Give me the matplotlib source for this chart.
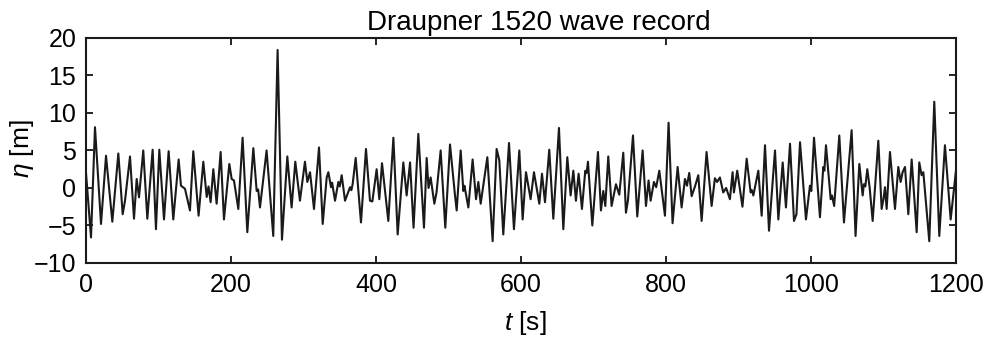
import matplotlib
matplotlib.use("Agg")
import matplotlib.pyplot as plt

# wave record: times [s] and surface elevation [m] at turning points
t = [0, 6.9, 12.4, 20.7, 27.6, 36.3, 44.6, 50.6, 53.8, 60.7, 66.2, 69.9, 73.1, 79, 84.6,
     91.9, 96.5, 101.1, 107.6, 114, 120.4, 127.8, 131, 136.5, 143.4, 148, 155.3,
     161.8, 166.5, 169, 171.9, 175.6, 180.2, 185.7, 190.3, 197.7, 200.9, 204.1, 210.1,
     216, 222.5, 230.8, 235.4, 237.5, 240, 249.1, 258.3, 264.3, 270.3, 277.7, 283.6,
     288.7, 295.1, 302, 305.3, 309, 314.5, 321.4, 326.5, 332, 334.3, 338, 339.5, 343.5,
     348.1, 350, 352.7, 357.3, 364.2, 366, 367.8, 372, 379.3, 386.2, 391.7, 395, 400.9,
     404.6, 408.3, 417, 424, 429.9, 437.7, 442.3, 447, 451.8, 458.4, 466.2, 469.9,
     472.5, 475.4, 480.5, 483.5, 489.2, 495.6, 502.1, 509, 511.3, 516.8, 520.5, 522,
     527.4, 533.3, 538, 541.2, 544.4, 553.6, 560.9, 566.4, 570.1, 575.6, 583.5, 590.3,
     597.7, 602.3, 606.9, 613.3, 617.9, 625.3, 629, 633.1, 639, 644.6, 652.4, 658.4,
     663.9, 668.5, 672.2, 675.8, 679.5, 684.1, 688.7, 690.5, 692.4, 698.4, 706.2,
     710.3, 713.5, 716.3, 720.4, 725, 731, 735.6, 741.1, 744.8, 747.5, 754.5, 760.4,
     767.8, 772.4, 776, 778.8, 783.4, 786.5, 790.8, 798.6, 803.6, 809.1, 816.1, 821.6,
     826.2, 829, 832.1, 835.4, 840, 844.6, 849.2, 856, 863, 867.5, 870.5, 874.4, 879,
     883, 888.2, 891.9, 893.7, 898.3, 905.5, 911.3, 916.8, 918.5, 920.5, 927.4, 932,
     936.6, 942.1, 950.4, 955, 961, 965.5, 971.1, 976.6, 980, 984.9, 993.1, 998.6,
     1000.5, 1004.2, 1012.4, 1017, 1018.5, 1020.7, 1027.2, 1029, 1032, 1039.1, 1045.5,
     1056.1, 1061.5, 1066.7, 1071.3, 1073, 1075, 1077.7, 1081, 1085.1, 1092.9, 1097.5,
     1100, 1102.1, 1104.4, 1109, 1115.9, 1120.5, 1123.7, 1126.4, 1129.7, 1134.3,
     1138.9, 1145.8, 1149.4, 1152.6, 1155, 1163.2, 1170.1, 1177, 1184.8, 1192.7, 1200]
eta = [2.0, -6.6, 8.1, -4.8, 4.3, -4.5, 4.6, -3.5, -1.7, 4.2, -4.1, 1.2, -1.25, 5.0, -4.1,
       5.1, -5.5, 5.1, -4.2, 4.9, -4.2, 3.8, 0.3, -0.1, -3.0, 4.9, -3.7,
       3.5, -1.2, 0.2, -1.9, 2.5, -2.1, 4.8, -4.2, 3.2, 1.2, 1.0, -2.8,
       6.7, -5.9, 5.3, -0.4, -0.2, -2.6, 5.0, -6.4, 18.4, -6.9, 4.2, -2.6,
       3.5, -1.7, 3.5, 0.8, 2.1, -2.8, 5.4, -4.8, 1.4, 2.1, 0.1, 0.7, -1.7,
       0.8, 0.2, 1.7, -1.7, 0.1, -0.3, 0.5, 4.0, -4.6, 5.2, -1.7, -1.8, 2.5,
       -1.5, 3.3, -4.4, 6.7, -6.2, 3.4, -1.0, 3.4, -5.3, 7.2, -5.3, 4.0,
       0.0, 1.4, -2.1, -0.6, 5.0, -5.3, 5.8, -1.0, -3.0, 5.0, -0.4, 0.3,
       -2.6, 3.8, -1.5, 0.8, -2.1, 4.1, -7.1, 5.2, 3.7, -6.2, 6.0, -5.5,
       5.0, -4.2, 2.1, -1.5, 2.1, -2.1, 1.9, -1.9, 5.1, -4.1, 8.0, -5.5,
       4.1, -1.0, 2.3, -1.7, 1.9, -2.8, 2.3, 2.0, 3.5, -5.0, 4.8,
       -3.0, -0.4, -2.4, 4.2, -2.4, 0.5, -0.9, 4.7, -3.3, -1.7, 7.0, -3.8,
       5.0, -2.4, 1.0, -1.7, 0.8, 0.1, 2.3, -3.7, 8.7, -4.7, 2.8, -2.6,
       1.2, 0.3, 2.0, -1.1, 0.2, 1.7, -4.4, 4.8, -2.4, 1.3, 0.8, 1.4, -0.6,
       0.0, -1.5, 2.1, -0.6, 2.3, -2.5, 3.9, -0.6, -0.3, -1.0, 2.3, -3.7,
       5.7, -5.7, 5.0, -4.2, 3.4, -2.6, 5.9, -4.4, -3.5, 6.1, -4.2, 0.3,
       -0.4, 6.7, -3.9, 2.8, 2.3, 5.7, -1.5, -1.0, -2.4, 7.0, -4.6,
       7.7, -6.4, 3.2, -1.0, 0.5, 0.2, 2.5, 0.0, -4.4, 6.3, -2.8,
       -1.5, 0.1, -2.8, 4.8, -2.8, 2.8, 0.8, 2.1, 2.8, -3.5,
       3.8, -5.9, 3.4, 1.7, 2.1, -7.1, 11.5, -6.4, 5.7, -4.2, 2.3]

xticks = [0, 200, 400, 600, 800, 1000, 1200]
yticks = [-10, -5, 0, 5, 10, 15, 20]

plt.rcParams['font.family'] = ['Liberation Sans', 'DejaVu Sans']
plt.rcParams['mathtext.fontset'] = 'custom'
plt.rcParams['mathtext.it'] = 'Liberation Sans:italic'
plt.rcParams['mathtext.rm'] = 'Liberation Sans'

fig = plt.figure(figsize=(9.84, 3.38), dpi=100)
ax = fig.add_axes([0.0874, 0.222, 0.8841, 0.6657])
ax.plot(t, eta, color='#1a1a1a', lw=1.5)

ax.set_xlim(0, 1200)
ax.set_ylim(-10, 20)
ax.set_xticks(xticks)
ax.set_yticks(yticks)
ax.tick_params(direction='in', top=True, right=True, length=5, width=1.2,
               labelsize=18, pad=7)
for s in ax.spines.values():
    s.set_linewidth(1.5)
    s.set_color('#1a1a1a')

ax.set_title('Draupner 1520 wave record', fontsize=20, pad=6, x=0.52)
ax.set_xlabel(r'$t$ [s]', fontsize=19)
ax.set_ylabel(r'$\eta$ [m]', fontsize=19)
ax.xaxis.set_label_coords(0.505, -0.205)
ax.yaxis.set_label_coords(-0.058, 0.51)

fig.savefig('out.png', dpi=100)
